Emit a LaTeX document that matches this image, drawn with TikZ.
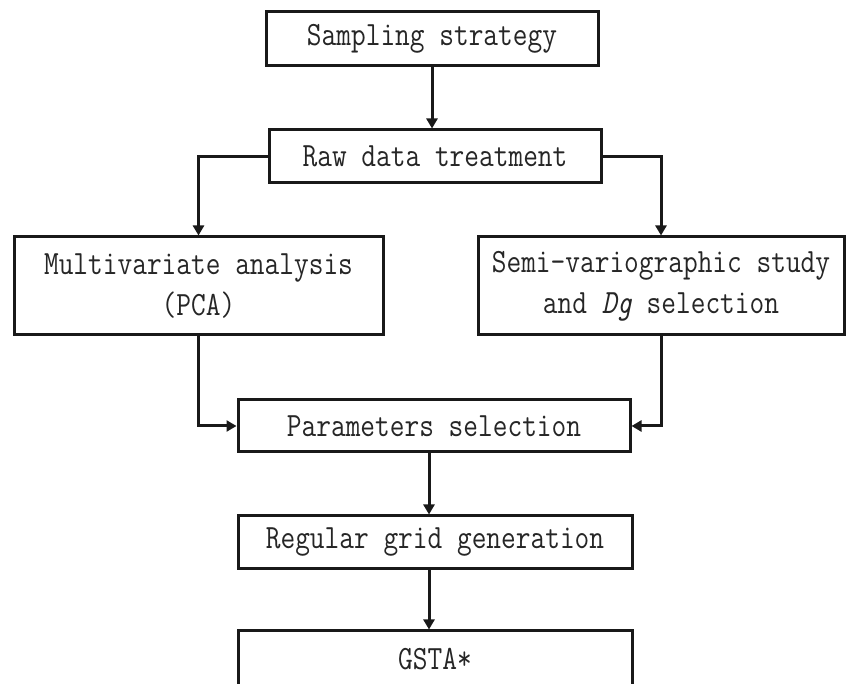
\documentclass[tikz,border=0pt]{standalone}
\usepackage{fontspec}
\newfontfamily\boxfont[FakeStretch=0.84]{Latin Modern Mono}
\usetikzlibrary{arrows.meta,calc}
\begin{document}
\begin{tikzpicture}[x=1pt,y=-1pt,
  box/.style={draw=black!90, line width=3pt, inner sep=0pt, align=center,
    font=\boxfont\fontsize{34}{41}\selectfont, text=black!85},
  arr/.style={draw=black!90, line width=3pt,
    -{Triangle[length=10pt,width=11pt]}}]
\useasboundingbox (0,0) rectangle (847,684);
\node[box, minimum width=332pt, minimum height=54pt] (samp) at (432,39) {Sampling strategy};
\node[box, minimum width=332pt, minimum height=53pt] (raw) at (435,156.5) {Raw data treatment};
\node[box, minimum width=369pt, minimum height=98pt] (multi) at (198.5,286) {Multivariate analysis\\(PCA)};
\node[box, minimum width=366pt, minimum height=98pt] (semi) at (661,286) {Semi-variographic study\\and \textit{Dg} selection};
\node[box, minimum width=392pt, minimum height=52pt] (param) at (434,426) {Parameters selection};
\node[box, minimum width=394pt, minimum height=53pt] (grid) at (435,542.5) {Regular grid generation};
\node[box, minimum width=394pt, minimum height=56pt] (gsta) at (435,659) {GSTA*};
\draw[arr] (samp.south) -- (samp.south |- raw.north);
\draw[arr] (raw.west) -| (multi.north);
\draw[arr] (raw.east) -| (semi.north);
\draw[arr] (multi.south) |- (param.west);
\draw[arr] (semi.south) |- (param.east);
\draw[arr] ($(param.south)+(-5,0)$) -- ($(grid.north)+(-6,0)$);
\draw[arr] ($(grid.south)+(-6,0)$) -- ($(gsta.north)+(-6,0)$);
\end{tikzpicture}
\end{document}
